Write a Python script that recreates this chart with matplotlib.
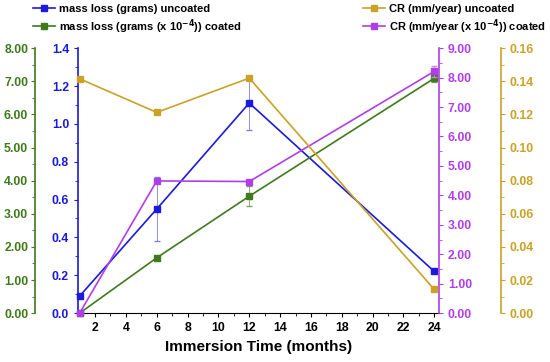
import matplotlib
matplotlib.use('Agg')
import matplotlib.pyplot as plt
from matplotlib.lines import Line2D
from matplotlib.ticker import MultipleLocator, FormatStrFormatter

plt.rcParams['font.family'] = ['Liberation Sans', 'DejaVu Sans']
plt.rcParams['font.weight'] = 'bold'
plt.rcParams['mathtext.default'] = 'bf'

months = [1, 6, 12, 24]
mass_uncoated = [0.09, 0.55, 1.11, 0.22]
mass_uncoated_err = [0.0, 0.17, 0.14, 0.0]
mass_coated = [0.0, 1.67, 3.53, 7.09]
mass_coated_err = [0.0, 0.0, 0.3, 0.1]
cr_uncoated = [0.1415, 0.1212, 0.1419, 0.0143]
cr_coated = [0.0, 4.49, 4.47, 8.21]
cr_coated_err = [0.0, 0.0, 0.0, 0.2]

c_blue = '#1a1adc'
c_green = '#3f7a1c'
c_gold = '#c9a227'
c_purple = '#b03ee8'
tick_size = 8.8

fig = plt.figure(figsize=(5.5, 3.62), dpi=100)
ax = fig.add_axes([0.142, 0.135, 0.656, 0.732])
ax_g = ax.twinx()
ax_p = ax.twinx()
ax_o = ax.twinx()

# blue main axis
ax.errorbar(months, mass_uncoated, yerr=mass_uncoated_err, color=c_blue, marker='s',
            ms=4.5, lw=1.2, capsize=2, elinewidth=0.6, clip_on=False, zorder=5,
            ecolor='#8080e0')
ax.set_xlim(0.9, 24.3)
ax.set_ylim(0, 1.4)
ax.yaxis.set_major_locator(MultipleLocator(0.2))
ax.yaxis.set_minor_locator(MultipleLocator(0.1))
ax.yaxis.set_major_formatter(FormatStrFormatter('%.1f'))
ax.xaxis.set_minor_locator(MultipleLocator(1))
ax.set_xticks(range(2, 25, 2))
ax.tick_params(axis='y', colors=c_blue, labelsize=tick_size, length=3, width=0.8)
ax.tick_params(axis='y', which='minor', colors=c_blue, length=2)
ax.tick_params(axis='x', labelsize=tick_size, length=3, width=0.8)
ax.tick_params(axis='x', which='minor', length=2)
ax.spines['left'].set_color(c_blue)
ax.spines['left'].set_linewidth(1.2)
ax.spines['top'].set_visible(False)
ax.spines['right'].set_visible(False)
ax.set_xlabel('Immersion Time (months)', fontsize=11, fontweight='bold', labelpad=4)

# green outer left axis
ax_g.errorbar(months, mass_coated, yerr=mass_coated_err, color=c_green, marker='s',
              ms=4.5, lw=1.2, capsize=2, elinewidth=0.6, clip_on=False, zorder=5,
              ecolor='#80a060')
ax_g.set_ylim(0, 8)
ax_g.yaxis.set_label_position('left')
ax_g.yaxis.tick_left()
ax_g.spines['left'].set_position(('axes', -0.119))
ax_g.spines['left'].set_color(c_green)
ax_g.spines['left'].set_linewidth(1.2)
for s in ['top', 'right', 'bottom']:
    ax_g.spines[s].set_visible(False)
ax_g.yaxis.set_major_locator(MultipleLocator(1))
ax_g.yaxis.set_minor_locator(MultipleLocator(0.5))
ax_g.yaxis.set_major_formatter(FormatStrFormatter('%.2f'))
ax_g.tick_params(axis='y', colors=c_green, labelsize=tick_size, length=3, width=0.8, pad=2)
ax_g.tick_params(axis='y', which='minor', colors=c_green, length=2)

# purple right axis
ax_p.errorbar(months, cr_coated, yerr=cr_coated_err, color=c_purple, marker='s',
              ms=4.5, lw=1.2, capsize=2, elinewidth=0.6, clip_on=False, zorder=5,
              ecolor='#c090e0')
ax_p.set_ylim(0, 9)
ax_p.spines['right'].set_color(c_purple)
ax_p.spines['right'].set_linewidth(1.2)
for s in ['top', 'left', 'bottom']:
    ax_p.spines[s].set_visible(False)
ax_p.yaxis.set_major_locator(MultipleLocator(1))
ax_p.yaxis.set_minor_locator(MultipleLocator(0.5))
ax_p.yaxis.set_major_formatter(FormatStrFormatter('%.2f'))
ax_p.tick_params(axis='y', colors=c_purple, labelsize=tick_size, length=3, width=0.8)
ax_p.tick_params(axis='y', which='minor', colors=c_purple, length=2)

# gold outer right axis
ax_o.plot(months, cr_uncoated, color=c_gold, marker='s', ms=4.5, lw=1.2,
          clip_on=False, zorder=4)
ax_o.set_ylim(0, 0.16)
ax_o.spines['right'].set_position(('axes', 1.172))
ax_o.spines['right'].set_color(c_gold)
ax_o.spines['right'].set_linewidth(1.2)
for s in ['top', 'left', 'bottom']:
    ax_o.spines[s].set_visible(False)
ax_o.yaxis.set_major_locator(MultipleLocator(0.02))
ax_o.yaxis.set_minor_locator(MultipleLocator(0.01))
ax_o.yaxis.set_major_formatter(FormatStrFormatter('%.2f'))
ax_o.tick_params(axis='y', colors=c_gold, labelsize=tick_size, length=3, width=0.8)
ax_o.tick_params(axis='y', which='minor', colors=c_gold, length=2)

for a in [ax, ax_g, ax_p, ax_o]:
    for lab in a.get_yticklabels() + a.get_xticklabels():
        lab.set_fontweight('bold')

def handle(c):
    return Line2D([], [], color=c, marker='s', ms=4.5, lw=1.2)

leg_kw = dict(loc='upper left', frameon=False, handlelength=2.0, handletextpad=0.4,
              labelspacing=0.25, borderpad=0.2, prop={'weight': 'bold', 'size': 8})
fig.legend([handle(c_blue), handle(c_green)],
           ['mass loss (grams) uncoated', r'mass loss (grams (x 10$^{-4}$)) coated'],
           bbox_to_anchor=(0.045, 1.01), **leg_kw)
fig.legend([handle(c_gold), handle(c_purple)],
           ['CR (mm/year) uncoated', r'CR (mm/year (x 10$^{-4}$)) coated'],
           bbox_to_anchor=(0.645, 1.01), **leg_kw)

fig.savefig('out.png', dpi=100)
plt.close(fig)
